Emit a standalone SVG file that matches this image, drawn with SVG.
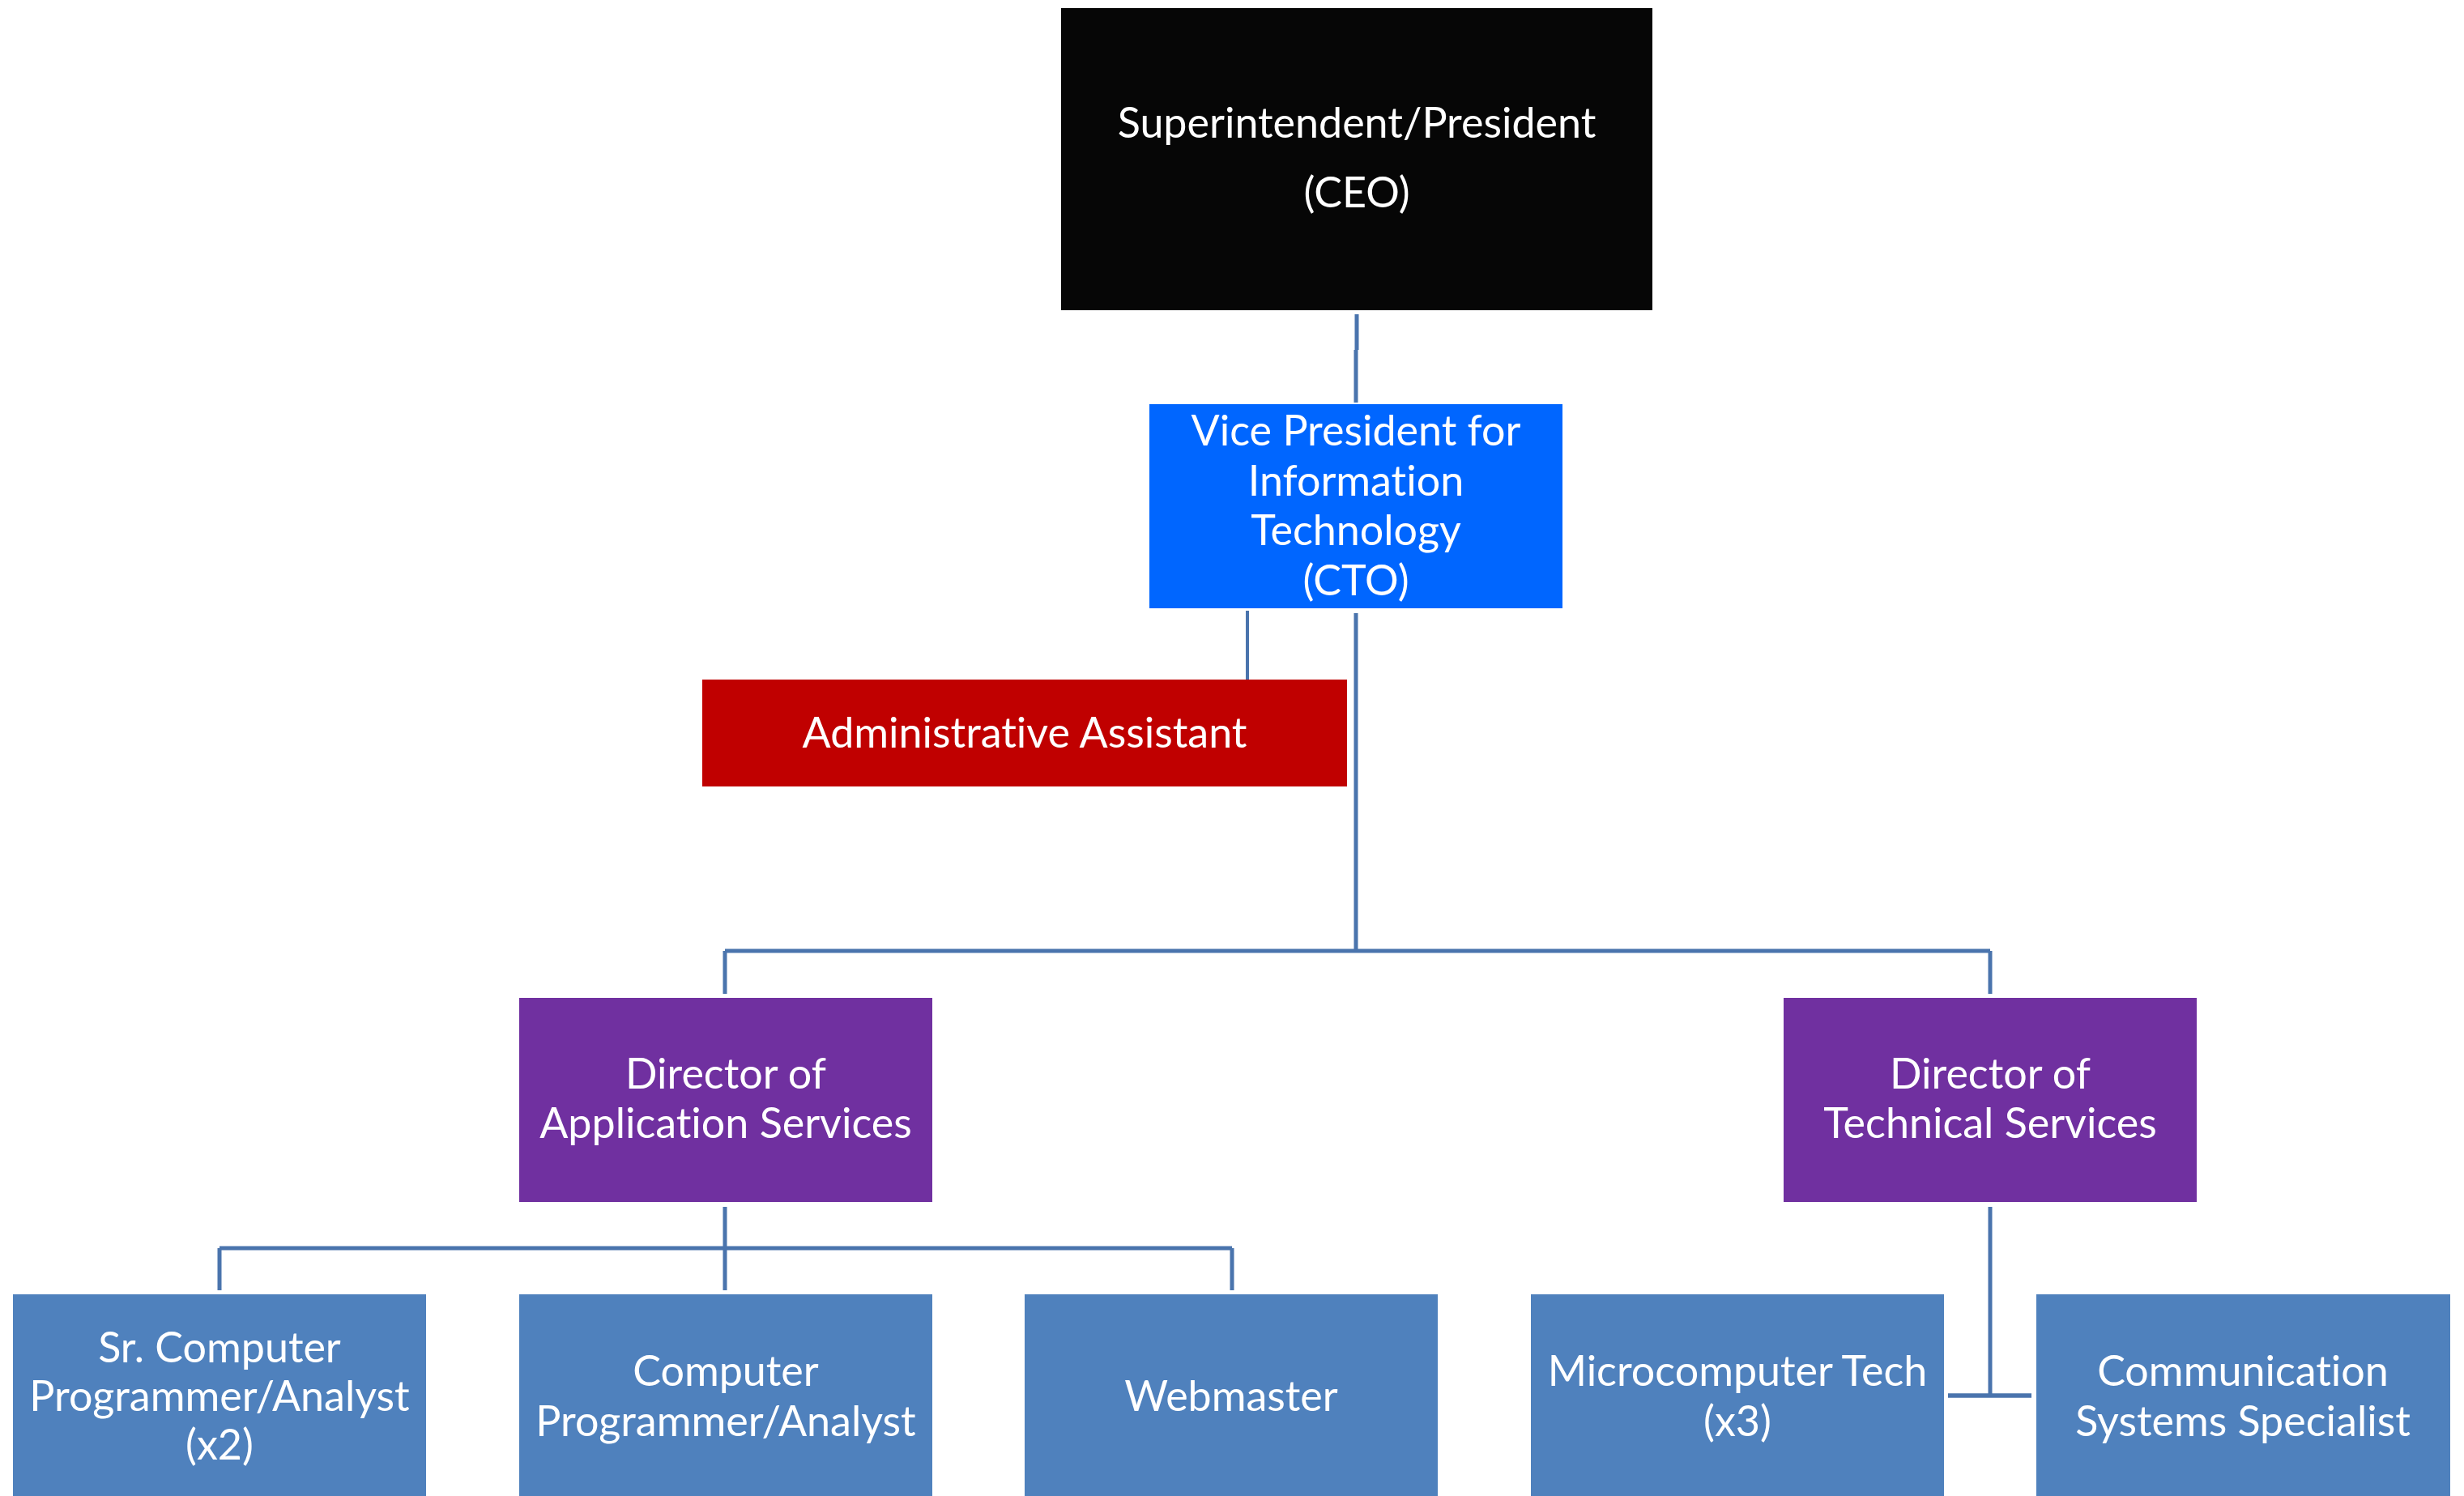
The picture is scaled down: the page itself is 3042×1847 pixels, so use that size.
<svg xmlns="http://www.w3.org/2000/svg" width="3042" height="1847" viewBox="0 0 3042 1847">
<style>
.lbl{font-family:Lato,"Open Sans","Liberation Sans",sans-serif;font-size:52px;fill:#ffffff;text-anchor:middle;font-variant-ligatures:none}
.con{stroke:#4A74AD;stroke-width:5;fill:none}
.ceo{fill:#060606}
.vp{fill:#0066FF}
.adm{fill:#C00000}
.dir{fill:#7030A0}
.staff{fill:#4F81BD}
</style>
<rect width="3042" height="1847" fill="#ffffff"/>
<g id="connectors">
<path class="con" d="M1675 388 V432 M1674 432 V497"/>
<path class="con" d="M1540 754 V839" style="stroke-width:4"/>
<path class="con" d="M1674 757 V1174"/>
<path class="con" d="M895 1174 H2457"/>
<path class="con" d="M895 1174 V1227"/>
<path class="con" d="M2457 1174 V1227"/>
<path class="con" d="M895 1490 V1541"/>
<path class="con" d="M271 1541 H1521"/>
<path class="con" d="M271 1541 V1593 M895 1541 V1593 M1521 1541 V1593"/>
<path class="con" d="M2457 1490 V1723"/>
<path class="con" d="M2405 1723 H2508" style="stroke-width:5.5"/>
</g>
<g id="ceo">
<rect class="ceo" x="1310" y="10" width="730" height="373"/>
<text class="lbl" x="1675" y="170">Superintendent/President</text>
<text class="lbl" x="1675" y="256">(CEO)</text>
</g>
<g id="cto">
<rect class="vp" x="1419" y="499" width="510" height="252"/>
<text class="lbl" x="1674" y="550">Vice President for</text>
<text class="lbl" x="1674" y="612">Information</text>
<text class="lbl" x="1674" y="673">Technology</text>
<text class="lbl" x="1674" y="735">(CTO)</text>
</g>
<g id="admin">
<rect class="adm" x="867" y="839" width="796" height="132"/>
<text class="lbl" x="1265" y="923">Administrative Assistant</text>
</g>
<g id="dir-app">
<rect class="dir" x="641" y="1232" width="510" height="252"/>
<text class="lbl" x="896" y="1344">Director of</text>
<text class="lbl" x="896" y="1405">Application Services</text>
</g>
<g id="dir-tech">
<rect class="dir" x="2202" y="1232" width="510" height="252"/>
<text class="lbl" x="2457" y="1344">Director of</text>
<text class="lbl" x="2457" y="1405">Technical Services</text>
</g>
<g id="sr-prog">
<rect class="staff" x="16" y="1598" width="510" height="260"/>
<text class="lbl" x="271" y="1682">Sr. Computer</text>
<text class="lbl" x="271" y="1742">Programmer/Analyst</text>
<text class="lbl" x="271" y="1802">(x2)</text>
</g>
<g id="prog">
<rect class="staff" x="641" y="1598" width="510" height="260"/>
<text class="lbl" x="896" y="1711">Computer</text>
<text class="lbl" x="896" y="1773">Programmer/Analyst</text>
</g>
<g id="webmaster">
<rect class="staff" x="1265" y="1598" width="510" height="260"/>
<text class="lbl" x="1520" y="1742">Webmaster</text>
</g>
<g id="micro">
<rect class="staff" x="1890" y="1598" width="510" height="260"/>
<text class="lbl" x="2145" y="1711">Microcomputer Tech</text>
<text class="lbl" x="2145" y="1773">(x3)</text>
</g>
<g id="comm">
<rect class="staff" x="2514" y="1598" width="511" height="260"/>
<text class="lbl" x="2769" y="1711">Communication</text>
<text class="lbl" x="2769" y="1773">Systems Specialist</text>
</g>
</svg>
